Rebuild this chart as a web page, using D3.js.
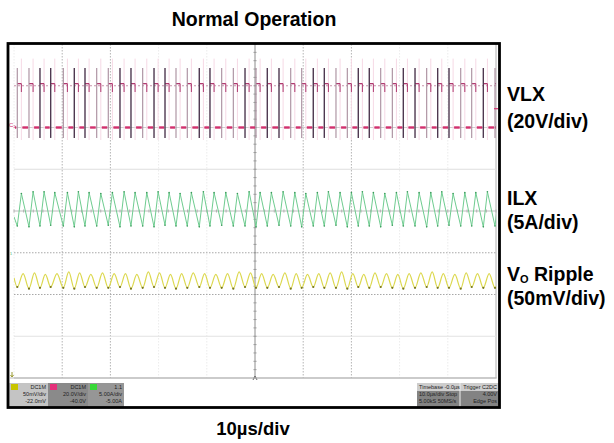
<!DOCTYPE html>
<html>
<head>
<meta charset="utf-8">
<script src="https://cdn.jsdelivr.net/npm/d3@7"></script>
<style>
body { margin: 0; background: #fff; }
text { font-family: "Liberation Sans", Arial, sans-serif; }
</style>
</head>
<body>
<svg id="chart" width="614" height="443"></svg>
<script>
// VLX rising edges, in µs from the left of the screen (10 µs/div, 10 div)
const edgeTimes = [0.68, 3.11, 5.39, 7.61, 10.23, 12.51, 14.73, 17.16, 19.56, 21.99,
    24.27, 26.70, 29.05, 31.33, 33.61, 35.95, 38.44, 40.66, 43.09, 45.50,
    47.93, 50.21, 52.55, 54.98, 57.41, 59.69, 62.09, 64.38, 66.80, 69.15,
    71.43, 73.71, 76.08, 78.49, 80.77, 83.20, 85.62, 87.90, 90.25, 92.68,
    94.96, 97.37, 99.79]
// 1 = edge drawn dark on the scope screen, 0 = faint
const edgeDark = [0, 0, 1, 1, 0, 1, 1, 0, 0, 1, 1, 0, 1, 1, 0, 0, 1, 1, 0, 0, 1, 0,
    1, 1, 0, 0, 1, 1, 0, 0, 1, 1, 0, 0, 1, 1, 0, 1, 1, 0, 0, 1, 0]
const onTime = 0.85 // µs that VLX stays high
// VLX levels in volts
const vlxLow = 0
const vlxHigh = 21
const vlxSpikeTop = 28.5
const vlxSpikeBottom = -5

// inductor current, A (valley at each rising edge, peak at edge + onTime)
const ilxStart = 4.3
const ilxValleys = [3.2, 3.1, 3.2, 3.3, 3.2, 3.1, 3.2, 3.2, 3.3, 3.1, 3.2, 3.2, 3.1, 3.3,
    3.2, 3.2, 3.1, 3.2, 3.3, 3.2, 3.2, 3.1, 3.2, 3.3, 3.2, 3.1, 3.2, 3.2, 3.3, 3.1,
    3.2, 3.2, 3.1, 3.3, 3.2, 3.2, 3.1, 3.2, 3.3, 3.2, 3.2, 3.1, 3.2]
const ilxPeaks = [7.1, 7.3, 7.3, 7.2, 7.2, 7.3, 7.2, 7.1, 7.2, 7.3, 7.2, 7.2, 7.3, 7.2,
    7.1, 7.2, 7.3, 7.2, 7.2, 7.1, 7.3, 7.2, 7.2, 7.3, 7.2, 7.1, 7.2, 7.3, 7.2, 7.2,
    7.3, 7.2, 7.1, 7.2, 7.3, 7.2, 7.2, 7.3, 7.1, 7.2, 7.2, 7.3, 7.2]

// output ripple, mV (dip at each edge, top between edges)
const rippleStart = 20
const rippleEnd = 10
const rippleDips = [9, 7, 8, 9, 8, 7, 9, 8, 8, 9, 7, 8, 9, 8, 7, 8, 9,
    8, 8, 7, 9, 8, 8, 9, 7, 8, 9, 8, 8, 7, 9, 8, 9, 8, 7, 8, 9,
    8, 8, 7, 9, 8, 8]
const rippleTops = [25, 26, 24, 25, 27, 26, 24, 26, 25, 25, 24, 27, 26, 24, 25, 26, 25,
    24, 25, 27, 26, 25, 24, 26, 25, 24, 25, 26, 27, 25, 24, 26, 25, 24, 25, 26, 27,
    25, 24, 26, 25, 25]

const timeTicks = [0, 10, 20, 30, 40, 50, 60, 70, 80, 90, 100]
const divTicks = [-4, -3, -2, -1, 0, 1, 2, 3, 4]

const svg = d3.select("#chart")

const x = d3.scaleLinear().domain([0, 100]).range([14, 496])
const yDiv = d3.scaleLinear().domain([-4, 4]).range([378, 44])
const yVlx = d3.scaleLinear().domain([-120, 40]).range([378, 44]) // 20 V/div, ground +2 div
const yIlx = d3.scaleLinear().domain([-15, 25]).range([378, 44]) // 5 A/div, ground -1 div
const yRip = d3.scaleLinear().domain([-100, 300]).range([378, 44]) // 50 mV/div, ground -2 div

svg.append("clipPath").attr("id", "plot")
    .append("rect").attr("x", x(0)).attr("y", yDiv(4)).attr("width", x(100) - x(0)).attr("height", yDiv(-4) - yDiv(4))

// graticule
const strongCols = [10, 20, 60, 70]
svg.append("g").selectAll("line")
    .data(timeTicks.filter(t => t != 50))
    .enter().append("line")
    .attr("x1", d => x(d)).attr("x2", d => x(d))
    .attr("y1", yDiv(4)).attr("y2", yDiv(-4))
    .attr("stroke", d => d == 100 ? "#b0b0b0" : strongCols.includes(d) ? "#b4b4b4" : "#ececec")
    .attr("stroke-dasharray", d => d == 100 ? null : "1.5,1.5")

const rowStyle = { "-4": ["#b8b8b8", null], "-3": ["#e2e2e2", null], "-2": ["#a8a8a8", "1.5,1.5"],
    "-1": ["#a8a8a8", "1.5,1.5"], "0": ["#bdbdbd", null], "1": ["#dedede", null],
    "2": ["#d0d0d0", null], "3": ["#c694ab", "2,2"], "4": ["#ddd", null] }
svg.append("g").selectAll("line")
    .data(divTicks)
    .enter().append("line")
    .attr("x1", x(0)).attr("x2", x(100))
    .attr("y1", d => yDiv(d)).attr("y2", d => yDiv(d))
    .attr("stroke", d => rowStyle[d][0])
    .attr("stroke-dasharray", d => rowStyle[d][1])

// centre cross with minor ticks
svg.append("line").attr("x1", x(50)).attr("x2", x(50)).attr("y1", yDiv(4)).attr("y2", yDiv(-4))
    .attr("stroke", "#8c8c8c")
const minorY = d3.range(-4, 4.001, 0.2)
svg.append("g").selectAll("line").data(minorY).enter().append("line")
    .attr("x1", x(50) - 1.5).attr("x2", x(50) + 1.5)
    .attr("y1", d => yDiv(d)).attr("y2", d => yDiv(d))
    .attr("stroke", "#9a9a9a")
const minorX = d3.range(0, 100.001, 2)
svg.append("g").selectAll("line").data(minorX).enter().append("line")
    .attr("x1", d => x(d)).attr("x2", d => x(d))
    .attr("y1", yDiv(0) - 1.5).attr("y2", yDiv(0) + 1.5)
    .attr("stroke", "#b0b0b0")

const traces = svg.append("g").attr("clip-path", "url(#plot)")

// VLX: faint falling edges
traces.append("g").selectAll("line")
    .data(edgeTimes).enter().append("line")
    .attr("x1", d => x(d + onTime)).attr("x2", d => x(d + onTime))
    .attr("y1", yVlx(33)).attr("y2", yVlx(-6))
    .attr("stroke", "#f6d9e5").attr("stroke-width", 1)

// VLX low level
const lowStarts = [0].concat(edgeTimes.map(d => d + onTime))
const lowEnds = edgeTimes.concat([100])
traces.append("g").selectAll("line")
    .data(d3.zip(lowStarts, lowEnds)).enter().append("line")
    .attr("x1", d => x(d[0]) + 1).attr("x2", d => x(d[1]) - 1)
    .attr("y1", yVlx(vlxLow)).attr("y2", yVlx(vlxLow))
    .attr("stroke", "#d2306e").attr("stroke-width", 2.4)
    .attr("stroke-dasharray", "6,1.2")

// VLX high plateau
traces.append("g").selectAll("line")
    .data(edgeTimes).enter().append("line")
    .attr("x1", d => x(d)).attr("x2", d => x(d + onTime))
    .attr("y1", yVlx(vlxHigh)).attr("y2", yVlx(vlxHigh))
    .attr("stroke", "#b03a70").attr("stroke-width", 1.3)
traces.append("g").selectAll("line")
    .data(edgeTimes).enter().append("line")
    .attr("x1", d => x(d + onTime)).attr("x2", d => x(d + onTime))
    .attr("y1", yVlx(vlxHigh)).attr("y2", yVlx(vlxHigh - 4))
    .attr("stroke", "#b03a70").attr("stroke-width", 1)

// VLX rising edges with ringing spikes
traces.append("g").selectAll("line")
    .data(d3.zip(edgeTimes, edgeDark)).enter().append("line")
    .attr("x1", d => x(d[0])).attr("x2", d => x(d[0]))
    .attr("y1", yVlx(vlxSpikeTop)).attr("y2", yVlx(vlxSpikeBottom))
    .attr("stroke", d => d[1] ? "#4f3850" : "#a88c9c")
    .attr("stroke-width", d => d[1] ? 1.4 : 1.1)

// ILX triangle
const ilxPoints = [[0, ilxStart]]
edgeTimes.forEach((t, i) => {
    ilxPoints.push([t, ilxValleys[i]])
    ilxPoints.push([t + onTime, ilxPeaks[i]])
})
traces.append("path")
    .attr("d", d3.line().x(d => x(d[0])).y(d => yIlx(d[1]))(ilxPoints))
    .attr("fill", "none").attr("stroke", "#6fcc90").attr("stroke-width", 1)
traces.append("g").selectAll("circle")
    .data(ilxPoints.slice(1)).enter().append("circle")
    .attr("cx", d => x(d[0])).attr("cy", d => yIlx(d[1])).attr("r", 0.8)
    .attr("fill", "#3a9a5a")

// Vo ripple
const ripPoints = [[0, rippleStart]]
edgeTimes.forEach((t, i) => {
    ripPoints.push([t, rippleDips[i]])
    if (i < rippleTops.length) ripPoints.push([(t + edgeTimes[i + 1]) / 2, rippleTops[i]])
})
ripPoints.push([100, rippleEnd])
traces.append("path")
    .attr("d", d3.line().curve(d3.curveMonotoneX).x(d => x(d[0])).y(d => yRip(d[1]))(ripPoints))
    .attr("fill", "none").attr("stroke", "#dcd84e").attr("stroke-width", 1.2)
traces.append("g").selectAll("circle")
    .data(edgeTimes.map((t, i) => [t, rippleDips[i]])).enter().append("circle")
    .attr("cx", d => x(d[0])).attr("cy", d => yRip(d[1])).attr("r", 1.1)
    .attr("fill", "#77761e")

// channel ground markers on the left, trigger markers
svg.append("text").attr("x", 9).attr("y", yVlx(0) - 1).attr("font-size", 6).attr("fill", "#d2306e").text("C₂")
svg.append("text").attr("x", 10).attr("y", yIlx(0) + 1).attr("font-size", 6).attr("fill", "#3cb060").text("₁")
svg.append("path").attr("d", `M12,${yDiv(-4) - 6}V${yDiv(-4) - 1}M10.5,${yDiv(-4) - 3}L12,${yDiv(-4) - 1}L13.5,${yDiv(-4) - 3}`)
    .attr("stroke", "#9a9a30").attr("fill", "none")
svg.append("path").attr("d", `M${x(50) - 2},${yDiv(-4) + 2}L${x(50)},${yDiv(-4) - 2}L${x(50) + 2},${yDiv(-4) + 2}`)
    .attr("stroke", "#666").attr("fill", "none")
svg.append("line").attr("x1", x(100) - 2).attr("x2", x(100) + 2).attr("y1", yVlx(9)).attr("y2", yVlx(9))
    .attr("stroke", "#d2306e").attr("stroke-width", 1.2)

// status bar boxes
const chanBoxes = [
    { x: 9, w: 39, bg: "#c4c4c4", tag: "#c8c400", rows: ["DC1M", "50mV/div", "-22.0mV"] },
    { x: 48, w: 40, bg: "#8a8a8a", tag: "#e4307a", rows: ["DC1M", "20.0V/div", "-40.0V"] },
    { x: 88, w: 36, bg: "#969696", tag: "#38d838", rows: ["1.1", "5.00A/div", "-5.00A"] }
]
const cb = svg.append("g").selectAll("g").data(chanBoxes).enter().append("g")
cb.append("rect").attr("x", d => d.x).attr("y", 383).attr("width", d => d.w).attr("height", 24).attr("fill", d => d.bg)
cb.append("rect").attr("x", d => d.x + 2).attr("y", 384).attr("width", 7).attr("height", 6).attr("fill", d => d.tag)
cb.selectAll("text").data(d => d.rows.map((r, i) => ({ r, i, d }))).enter().append("text")
    .attr("x", e => e.d.x + e.d.w - 2).attr("y", e => 389 + e.i * 7)
    .attr("text-anchor", "end").attr("font-size", 5.5).attr("fill", "#222").text(e => e.r)

svg.append("rect").attr("x", 417).attr("y", 383).attr("width", 82).attr("height", 8).attr("fill", "#cdcdcd")
svg.append("rect").attr("x", 417).attr("y", 391).attr("width", 82).attr("height", 16).attr("fill", "#838383")
svg.append("line").attr("x1", 460).attr("x2", 460).attr("y1", 383).attr("y2", 407).attr("stroke", "#eee")
const tbRows = [["Timebase  -0.0µs", "Trigger  C2DC"], ["10.0µs/div  Stop", "4.00V"], ["5.00kS  50MS/s", "Edge  Pos"]]
tbRows.forEach((r, i) => {
    svg.append("text").attr("x", 419).attr("y", 389 + i * 7).attr("font-size", 5.5).attr("fill", "#222").text(r[0])
    svg.append("text").attr("x", 497).attr("y", 389 + i * 7).attr("font-size", 5.5).attr("text-anchor", "end").attr("fill", "#222").text(r[1])
})

// scope frame
svg.append("line").attr("x1", 10).attr("x2", 497).attr("y1", yDiv(-4)).attr("y2", yDiv(-4)).attr("stroke", "#bbb")
svg.append("rect").attr("x", 8).attr("y", 43.5).attr("width", 491.5).attr("height", 364)
    .attr("fill", "none").attr("stroke", "#000").attr("stroke-width", 2.8)

// titles and labels
svg.append("text").attr("x", 254).attr("y", 26).attr("text-anchor", "middle")
    .attr("font-size", 19.5).attr("font-weight", "bold").text("Normal Operation")
svg.append("text").attr("x", 253).attr("y", 435).attr("text-anchor", "middle")
    .attr("font-size", 18.5).attr("font-weight", "bold").text("10µs/div")

const labelLines = [["VLX", 101], ["(20V/div)", 127.5], ["ILX", 205], ["(5A/div)", 229], ["(50mV/div)", 305]]
svg.append("g").selectAll("text").data(labelLines).enter().append("text")
    .attr("x", 507).attr("y", d => d[1]).attr("font-size", 19.5).attr("font-weight", "bold").text(d => d[0])
const vo = svg.append("text").attr("x", 507).attr("y", 280.5).attr("font-size", 19.5).attr("font-weight", "bold")
vo.append("tspan").text("V")
vo.append("tspan").attr("font-size", 11).attr("dy", 2.5).text("O")
vo.append("tspan").attr("dy", -2.5).text(" Ripple")
</script>
</body>
</html>
